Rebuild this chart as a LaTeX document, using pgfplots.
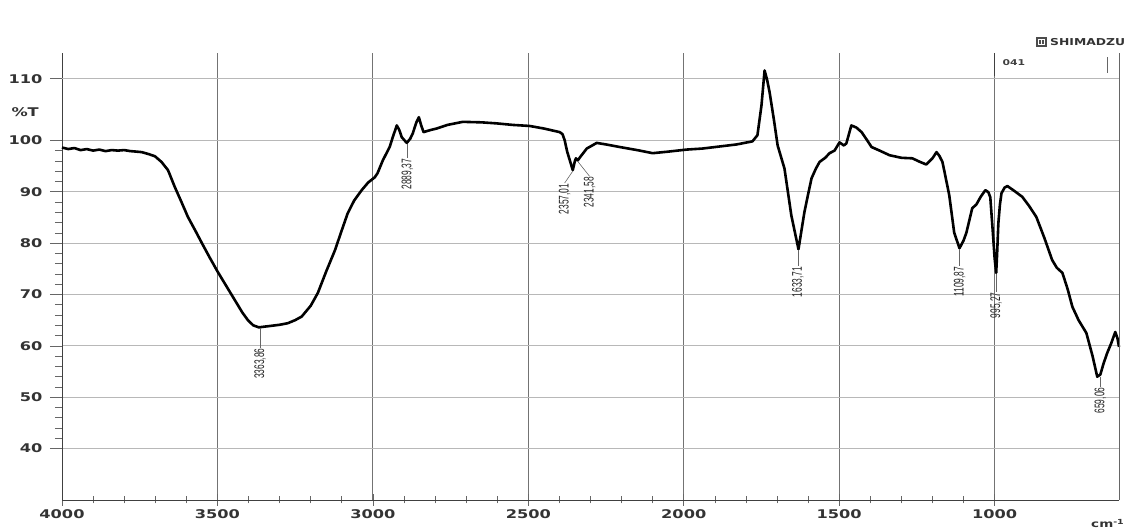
\documentclass[border=0pt]{standalone}
\usepackage{pgfplots}
\pgfplotsset{compat=1.18}
\usetikzlibrary{calc}
\usepackage{fontspec}
\setmainfont{Liberation Serif}
\newfontfamily\tickfont[FakeStretch=1.35]{DejaVu Sans}
\newfontfamily\peakfont[FakeStretch=0.6]{Liberation Sans}
\newfontfamily\logofont[FakeStretch=1.3]{DejaVu Sans}
\begin{document}
\begin{tikzpicture}
\begin{axis}[
  scale only axis, width=1057pt, height=447pt,
  x dir=reverse, xmin=600, xmax=4000, ymin=30, ymax=117,
  axis x line*=bottom, axis y line*=left,
  axis line style={black!75, line width=0.9pt},
  xtick={1000,1500,2000,2500,3000,3500,4000},
  xticklabels={1000,1500,2000,2500,3000,3500,4000},
  ytick={40,50,60,70,80,90,100},
  yticklabels={40,50,60,70,80,90,100},
  extra y ticks={112}, extra y tick labels={110},
  minor x tick num=4, minor y tick num=4,
  xtick align=center, ytick align=outside,
  major tick length=12pt, minor tick length=7pt,
  tick style={black!60, line width=0.6pt},
  grid=major,
  x grid style={black!55, line width=0.8pt},
  y grid style={black!28, line width=0.8pt},
  tick label style={font=\tickfont\fontsize{12}{12}\selectfont\bfseries, text=black!80},
  xticklabel style={yshift=0pt},
  yticklabel style={xshift=-4pt},
  clip=false,
]
\addplot[black, line width=2.6pt, line join=round] coordinates {
(4000,98.6)(3980,98.3)(3960,98.5)(3940,98.1)(3920,98.3)(3900,98.0)(3880,98.2)(3860,97.9)
(3840,98.1)(3820,98.0)(3800,98.1)(3780,97.9)(3760,97.8)(3743,97.7)(3720,97.3)(3701,96.9)
(3680,95.8)(3659,94.2)(3637,90.9)(3615,87.9)(3595,85.1)(3570,82.3)(3550,80.0)(3525,77.2)
(3499,74.4)(3470,71.5)(3444,68.9)(3420,66.5)(3402,65.0)(3385,64.0)(3367,63.6)(3340,63.8)
(3300,64.1)(3274,64.4)(3250,65.0)(3229,65.7)(3200,67.8)(3177,70.3)(3150,74.5)(3122,78.6)
(3100,82.5)(3081,85.8)(3060,88.3)(3036,90.3)(3015,91.8)(2994,92.8)(2985,93.6)(2968,96.1)
(2946,98.7)(2935,100.8)(2923,102.9)(2915,102.0)(2907,100.6)(2891,99.5)(2880,100.3)(2872,101.3)
(2860,103.5)(2852,104.5)(2845,103.0)(2837,101.6)(2815,102.0)(2795,102.3)(2760,103.0)(2711,103.6)
(2650,103.5)(2602,103.3)(2550,103.0)(2496,102.8)(2450,102.3)(2399,101.6)(2390,101.2)(2383,100.0)
(2375,97.8)(2370,96.8)(2357,94.2)(2350,96.0)(2347,96.5)(2341,96.1)(2330,97.0)(2312,98.4)
(2280,99.5)(2250,99.2)(2206,98.7)(2150,98.1)(2100,97.5)(2050,97.8)(1991,98.2)(1940,98.4)
(1885,98.8)(1830,99.2)(1779,99.8)(1763,101)(1750,106.8)(1740,113.6)(1732,111.8)(1724,109.4)
(1710,104)(1698,99.0)(1676,94.5)(1654,85.4)(1631,78.8)(1612,86)(1600,89.5)(1589,92.6)
(1575,94.5)(1563,95.8)(1545,96.6)(1531,97.5)(1515,98.0)(1499,99.6)(1485,99.0)(1477,99.4)
(1461,102.9)(1445,102.5)(1428,101.6)(1410,100.0)(1396,98.7)(1370,98.0)(1338,97.1)(1300,96.6)
(1265,96.5)(1240,95.8)(1220,95.3)(1200,96.5)(1187,97.7)(1178,97.0)(1168,95.8)(1160,93.5)
(1146,89.3)(1130,82.0)(1113,79.0)(1100,80.5)(1091,82.0)(1072,86.8)(1059,87.5)(1045,89.0)
(1030,90.3)(1020,89.9)(1014,88.9)(1007,83.1)(1000,77)(995,74.2)(992,78)(988,83.9)
(983,87.5)(978,89.7)(968,90.8)(959,91.1)(940,90.3)(911,89.0)(890,87.3)(866,85.1)
(840,81.0)(815,76.7)(800,75.2)(782,74.2)(765,71)(750,67.6)(730,65.0)(705,62.5)
(685,58)(670,54.0)(660,54.4)(650,56.5)(638,58.6)(625,60.5)(612,62.7)(605,61.5)(600,59.8)
};
% right frame line
\draw[black!60, line width=0.9pt] (axis cs:600,30) -- (axis cs:600,117);
% peak leaders and labels
\tikzset{pk/.style={rotate=90, anchor=east, inner sep=0.5pt, font=\peakfont\fontsize{14}{14}\selectfont, text=black!85},
         ld/.style={black!60, line width=0.6pt}}
\draw[ld] (axis cs:3363,63.4) -- (axis cs:3363,59.6); \node[pk] at (axis cs:3363,59.6) {3363,86};
\draw[ld] (axis cs:2889,99.3) -- (axis cs:2889,96.5); \node[pk] at (axis cs:2889,96.5) {2889,37};
\draw[ld] (axis cs:2357,94.0) -- (axis cs:2383,91.7); \node[pk] at (axis cs:2383,91.7) {2357,01};
\draw[ld] (axis cs:2341,95.9) -- (axis cs:2303,93.0); \node[pk] at (axis cs:2303,93.0) {2341,58};
\draw[ld] (axis cs:1633,78.6) -- (axis cs:1633,75.5); \node[pk] at (axis cs:1633,75.5) {1633,71};
\draw[ld] (axis cs:1113,78.8) -- (axis cs:1113,75.5); \node[pk] at (axis cs:1113,75.5) {1109,87};
\draw[ld] (axis cs:995,74.0) -- (axis cs:995,70.5); \node[pk] at (axis cs:995,70.5) {995,27};
\draw[ld] (axis cs:660,54.0) -- (axis cs:660,52.0); \node[pk] at (axis cs:660,52.0) {659,06};
% %T label
\node[anchor=east, inner sep=0pt, xshift=-23pt, font=\tickfont\fontsize{12}{12}\selectfont\bfseries, text=black!80] at (axis cs:4000,105.4) {\%T};
% 041 box
\draw[black!75, line width=1.6pt] (axis cs:1000,117) -- (axis cs:1000,112.6);
\draw[black!60, line width=1.2pt] (axis cs:638,116.2) -- (axis cs:638,113.2);
\node[anchor=west, inner sep=0pt, font=\tickfont\fontsize{8}{8}\selectfont\bfseries, text=black!75] at (axis cs:975,115.1) {041};
\coordinate (LL) at (axis cs:4000,30);
\coordinate (UR) at (axis cs:600,117);
\end{axis}
\pgfresetboundingbox
\path[use as bounding box] ($(LL)+(-62pt,-28pt)$) rectangle ($(UR)+(7pt,53pt)$);
\coordinate (TL) at ($(LL|-UR)+(-62pt,53pt)$);
% logo
\fill[black!70] ($(TL)+(1036pt,-37pt)$) rectangle ($(TL)+(1047pt,-47pt)$);
\draw[white, line width=0.8pt] ($(TL)+(1038.5pt,-39.5pt)$) rectangle ($(TL)+(1044.5pt,-44.5pt)$);
\draw[white, line width=0.8pt] ($(TL)+(1041.5pt,-39.5pt)$) -- ($(TL)+(1041.5pt,-44.5pt)$);
\node[anchor=west, inner sep=0pt, font=\logofont\fontsize{9.5}{9.5}\selectfont\bfseries, text=black!80] at ($(TL)+(1050pt,-42pt)$) {SHIMADZU};
% unit
\node[anchor=south east, inner sep=0pt, font=\tickfont\fontsize{10}{10}\selectfont\bfseries, text=black!80] at ($(TL)+(1124pt,-527.5pt)$) {cm\raisebox{3pt}{\fontsize{7}{7}\selectfont -1}};
\end{tikzpicture}
\end{document}
